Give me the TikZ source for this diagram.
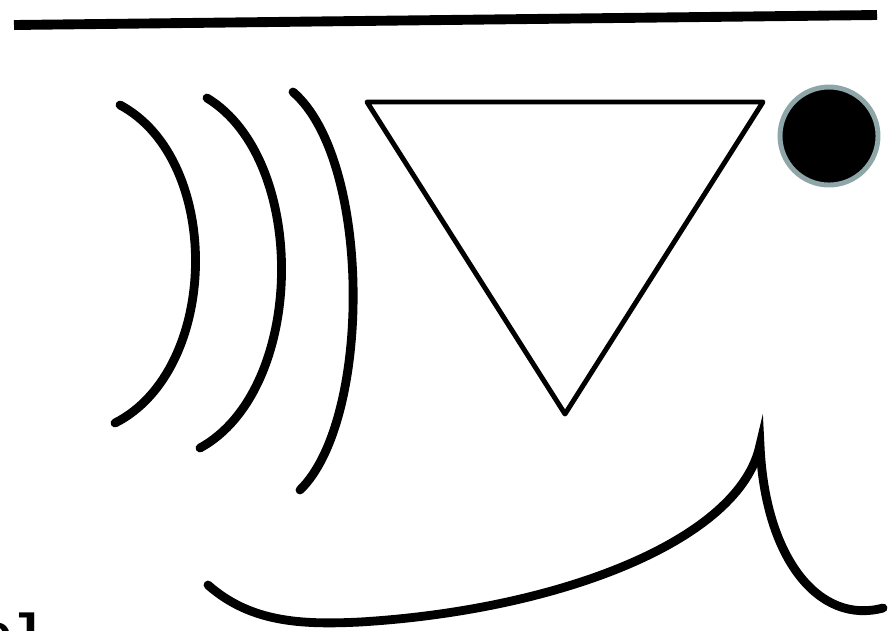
\documentclass[tikz,border=0pt]{standalone}
\usepackage{fontspec}
\newfontfamily\slabfont{Liberation Mono}
\usetikzlibrary{calc}
\definecolor{rim}{HTML}{8FA6A8}
\definecolor{shade}{HTML}{BDBDBD}
\tikzset{wave/.style={line width=5pt,line cap=round,
           preaction={draw=shade,opacity=0.45,transform canvas={shift={(0.8pt,-1.4pt)}}}},
         bar/.style={wave,line width=5.6pt,line cap=butt},
         funnel/.style={line width=2.8pt,line join=round},
         dot/.style={circle,fill=black,draw=rim,line width=2.8pt,minimum size=98pt*0.567,inner sep=0pt}}

\begin{document}
\begin{tikzpicture}[x=0.567pt,y=-0.567pt]
\useasboundingbox (0,0) rectangle (893,630);
\clip (0,0) rectangle (893,630);
% top rule
\coordinate (barL) at (14,25);
\coordinate (barR) at (877,15);
\draw[bar] (barL) -- (barR);
% waves
\draw[wave] (120,105) .. controls (223,160) and (220,370) .. (115,423);
\draw[wave] (207,98) .. controls (309,160) and (306,390) .. (200,448);
\draw[wave] (293,92) .. controls (372,160) and (372,420) .. (300,490);
% inverted triangle
\coordinate (triL) at (367,102);
\coordinate (triR) at (763,102);
\coordinate (triB) at (565,414);
\draw[funnel] (triL) -- (triR) -- (triB) -- cycle;
% dot
\node[dot] (ball) at (829,136) {};
% bottom curve with cusp
\coordinate (tailA) at (208,585);
\coordinate (tailB) at (360,622);
\coordinate (cusp) at (760,445);
\coordinate (tailC) at (883,608);
\draw[wave] (tailA) .. controls (250,622) and (300,625) .. (tailB)
  .. controls (560,610) and (740,540) .. (cusp)
  .. controls (765,560) and (820,625) .. (tailC);
% cut-off label
\node[anchor=base west,inner sep=0pt,font=\slabfont\bfseries\fontsize{31pt}{36pt}\selectfont] (lbl) at (-20,652) {el};
\end{tikzpicture}
\end{document}
